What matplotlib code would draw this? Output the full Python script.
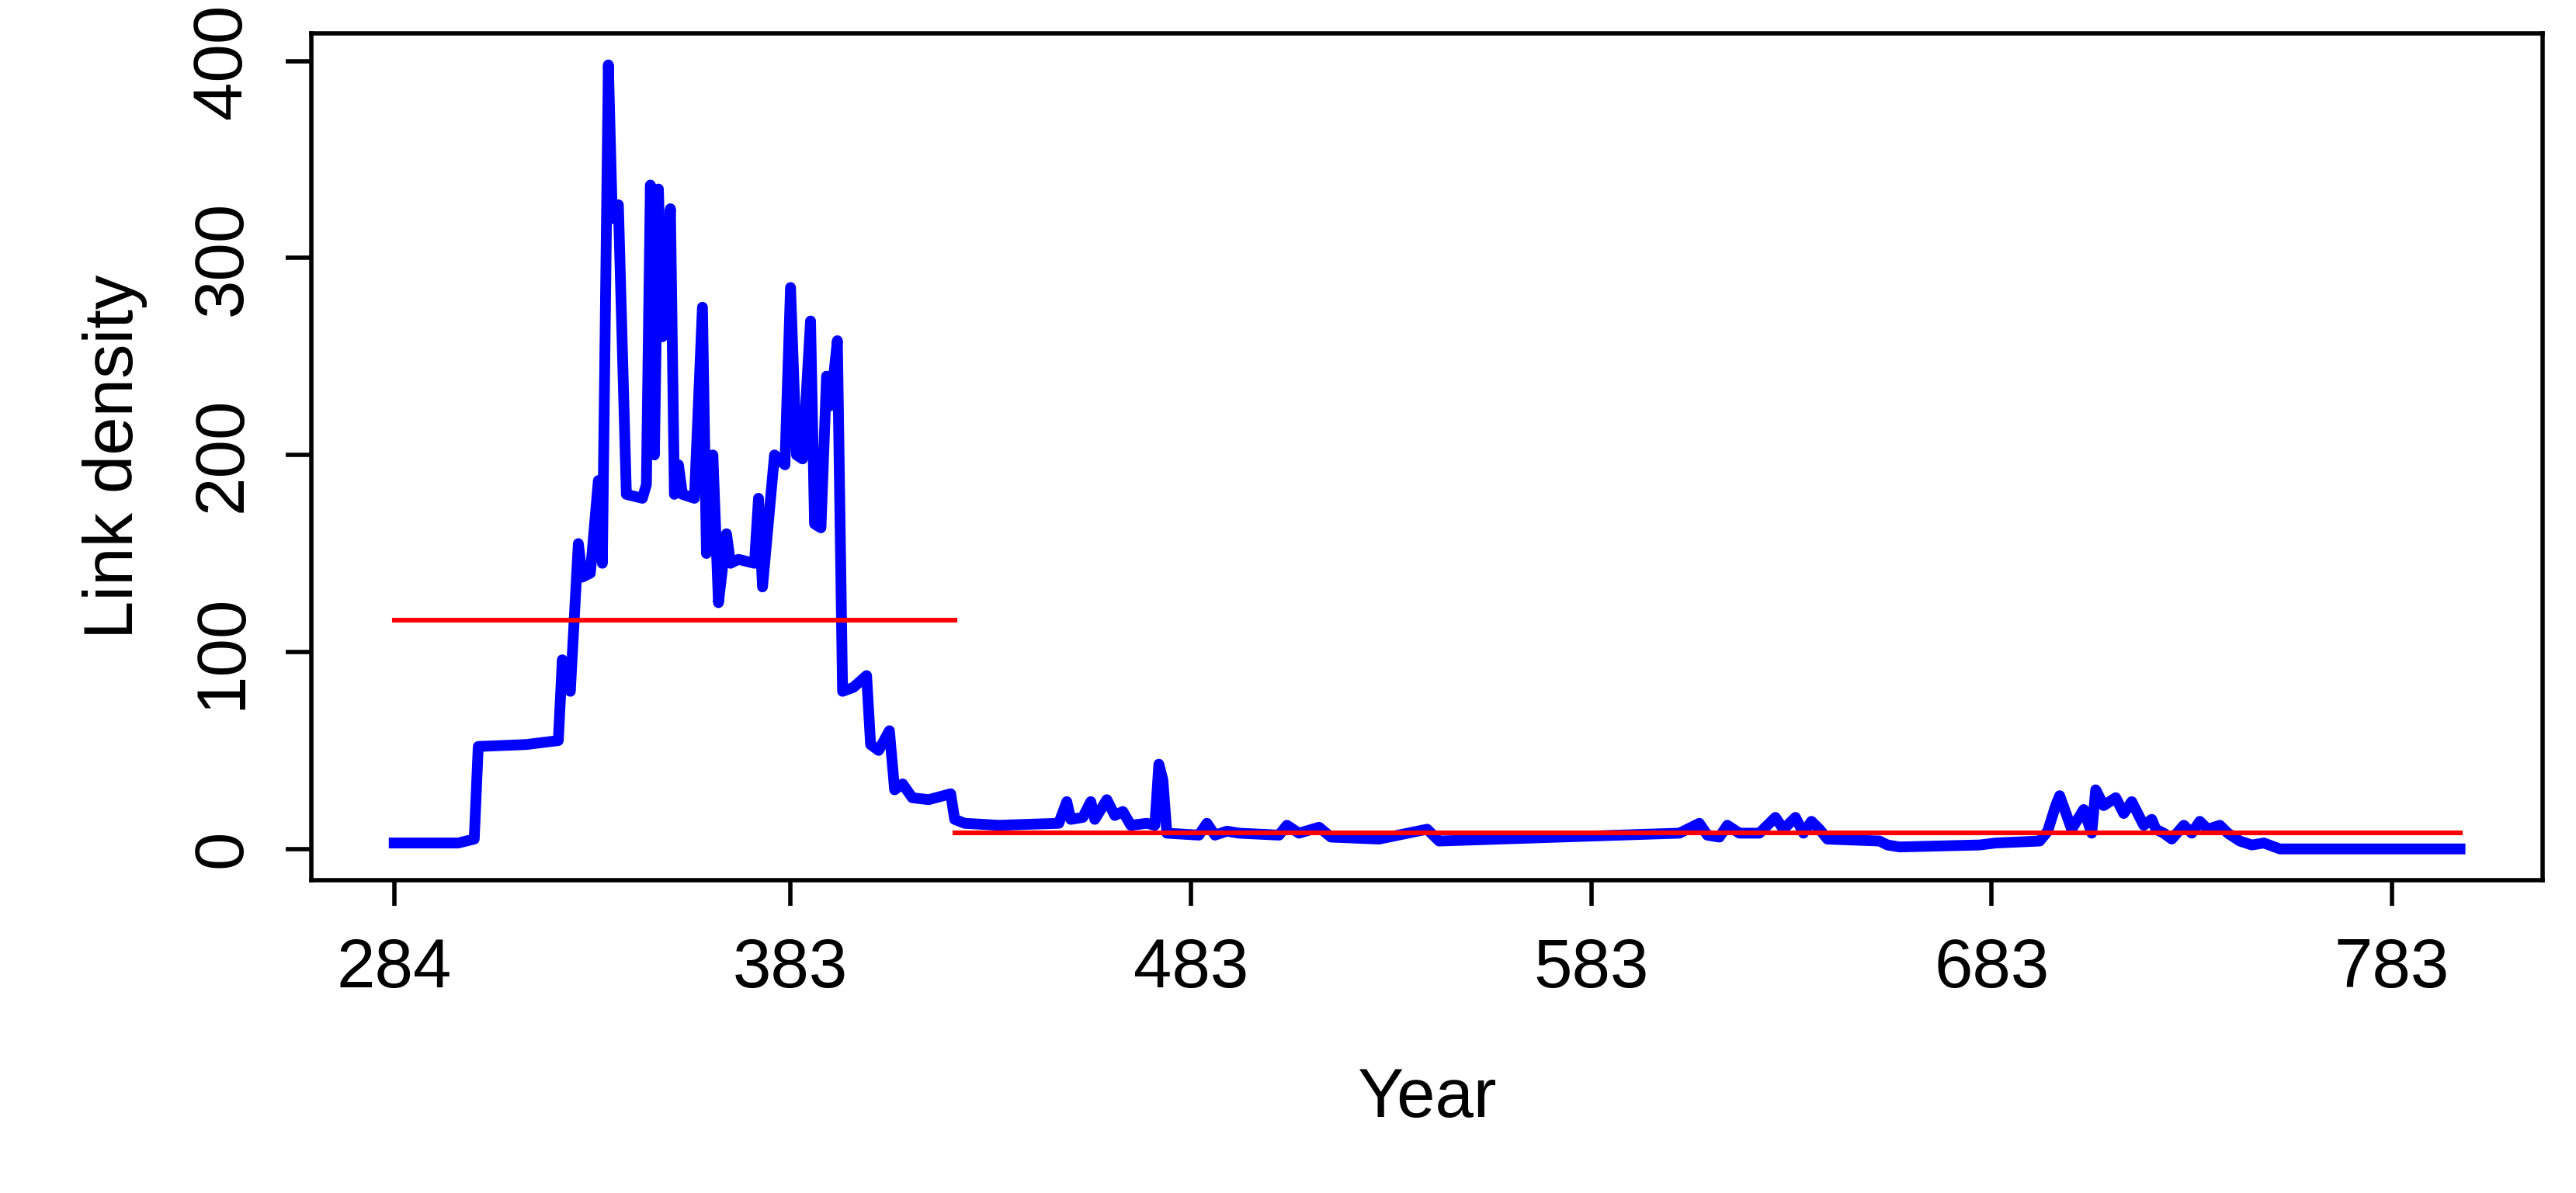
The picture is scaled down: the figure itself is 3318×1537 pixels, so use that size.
import matplotlib
matplotlib.use("Agg")
import matplotlib.pyplot as plt

years = [284,300,304,305,317,325,326,328,330,331,333,335,336,337.5,338.5,340,342,346,347,348,349,350,351,353,354,355,356,359,361,362,363.6,365,367,368,370,374,375,376,379,381.6,383,384.5,386,388,389,390.6,392,393,394.7,396,398.7,402,403,405,407.7,409,411,413.4,417.5,423,424,426.5,435,450,452,453,456,458,459,462,464,466,468,472,474,475,476,477,485,487,489,492,495,505,507,510,515,518,530,542,545,560,605,610,612,615,617,620,625,629,631,634,636,638,640,642,655,657,660,680,684,695,697,699,700,703,706,708,709,711,714,716,718,721,723,724,726,728,731,733,735,737,740,742,745,748,751,755,800]
density = [3,3,5,52,53,55,96,80,155,138,140,187,145,398,320,327,180,178,185,337,200,335,260,325,180,195,180,178,275,150,200,125,160,145,147,145,178,133,200,195,285,200,198,268,165,163,240,225,258,80,82,88,53,50,60,30,33,26,25,28,15,13,12,13,24,15,16,24,15,25,17,19,12,13,12,43,35,8,7,13,7,9,8,7,12,8,11,6,5,10,4,5,8,13,7,6,12,8,8,16,10,16,8,14,10,5,4,2,1,2,3,4,9,22,27,10,20,8,30,22,26,18,24,12,15,10,8,5,12,8,14,10,12,8,4,2,3,0,0]
seg_x = [[284, 424], [424, 800]]
seg_y = [116, 8]
xticks = [284, 383, 483, 583, 683, 783]
yticks = [0, 100, 200, 300, 400]

plt.rcParams['font.family'] = ['Liberation Sans', 'DejaVu Sans']
fig = plt.figure(figsize=(16.59, 7.685), dpi=200)
ax = fig.add_axes([0.121, 0.262, 0.866, 0.71])
ax.plot(years, density, color='blue', lw=5, solid_joinstyle='round')
for sx, sy in zip(seg_x, seg_y):
    ax.plot(sx, [sy, sy], color='red', lw=2.2)
ax.set_xlim(263.4, 820.6)
ax.set_ylim(-16, 414)
ax.set_xticks(xticks)
ax.set_yticks(yticks)
ax.tick_params(labelsize=32, width=2, length=12, pad=14)
for lab in ax.get_yticklabels():
    lab.set_rotation(90); lab.set_va('center')
for s in ax.spines.values():
    s.set_linewidth(2)
ax.set_xlabel('Year', fontsize=32, labelpad=30)
ax.set_ylabel('Link density', fontsize=32, labelpad=20)
fig.savefig('out.png', dpi=200)
